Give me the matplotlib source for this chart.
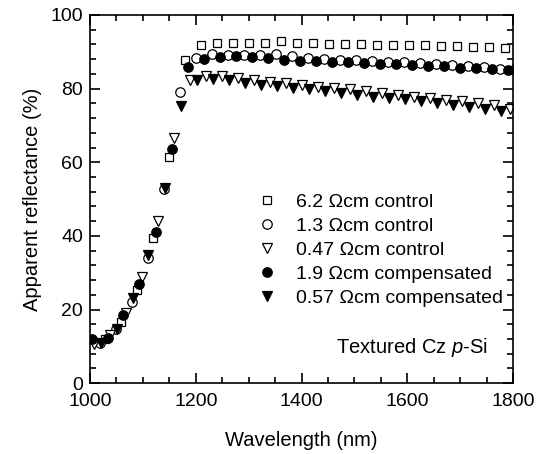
import matplotlib
matplotlib.use("Agg")
import matplotlib.pyplot as plt
from matplotlib.ticker import MultipleLocator

plt.rcParams["font.family"] = ["Liberation Sans", "DejaVu Sans"]
plt.rcParams["mathtext.fontset"] = "custom"
plt.rcParams["mathtext.it"] = "Liberation Sans:italic"
plt.rcParams["mathtext.rm"] = "Liberation Sans"

# 6.2 Ohm cm control (open squares)
wl_sq = [1028, 1059, 1089, 1119, 1149, 1180, 1210, 1240, 1270, 1301, 1331, 1361, 1391,
         1422, 1452, 1482, 1512, 1543, 1573, 1603, 1633, 1664, 1694, 1724, 1754, 1785]
r_sq = [12.0, 16.6, 25.3, 39.4, 61.4, 87.8, 91.8, 92.3, 92.4, 92.4, 92.3, 92.8, 92.3,
        92.3, 92.0, 92.0, 92.0, 91.9, 91.9, 91.8, 91.8, 91.6, 91.5, 91.4, 91.3, 91.1]

# 1.3 Ohm cm control (open circles)
wl_oc = [1019, 1049, 1079, 1110, 1140, 1170, 1200, 1230, 1260, 1291, 1321, 1351, 1381, 1412,
         1442, 1472, 1502, 1533, 1563, 1593, 1623, 1654, 1684, 1714, 1744, 1775, 1803]
r_oc = [11.0, 14.8, 22.0, 34.0, 52.7, 79.0, 88.2, 89.4, 89.1, 89.1, 89.1, 89.4, 88.8, 88.2,
        88.0, 87.8, 87.8, 87.5, 87.3, 87.3, 86.9, 86.7, 86.4, 86.1, 85.9, 85.2, 85.2]

# 0.47 Ohm cm control (open triangles)
wl_ot = [1008, 1038, 1068, 1098, 1129, 1159, 1189, 1219, 1250, 1280, 1310, 1340, 1371, 1401,
         1431, 1461, 1492, 1522, 1552, 1582, 1613, 1643, 1673, 1703, 1734, 1764, 1794]
r_ot = [10.6, 13.0, 19.0, 28.8, 44.0, 66.6, 82.3, 83.3, 83.4, 82.8, 82.3, 81.9, 81.4, 81.0,
        80.5, 80.2, 79.8, 79.4, 78.9, 78.4, 77.8, 77.4, 76.9, 76.6, 76.2, 75.6, 74.6]

# 1.9 Ohm cm compensated (filled circles)
wl_fc = [1004, 1034, 1063, 1093, 1125, 1155, 1185, 1215, 1245, 1276, 1306, 1336, 1366, 1397,
         1427, 1457, 1487, 1518, 1548, 1578, 1608, 1639, 1669, 1699, 1729, 1760, 1790]
r_fc = [12.0, 12.3, 18.5, 26.9, 41.0, 63.6, 86.0, 88.0, 88.7, 88.9, 88.5, 88.4, 87.9, 87.5,
        87.5, 87.3, 87.1, 86.9, 86.7, 86.7, 86.4, 86.1, 86.1, 85.7, 85.5, 85.3, 85.1]

# 0.57 Ohm cm compensated (filled triangles)
wl_ft = [1021, 1051, 1081, 1110, 1142, 1172, 1202, 1232, 1263, 1293, 1323, 1353, 1384,
         1414, 1444, 1474, 1505, 1535, 1565, 1595, 1626, 1656, 1686, 1716, 1747, 1777]
r_ft = [10.9, 14.7, 23.1, 34.8, 53.0, 75.3, 82.3, 82.6, 82.3, 81.4, 81.0, 80.7, 80.2,
        79.8, 79.4, 78.9, 78.4, 77.8, 77.5, 77.1, 76.6, 76.0, 75.6, 75.1, 74.5, 73.9]

labels = ["6.2 \u03a9cm control", "1.3 \u03a9cm control", "0.47 \u03a9cm control",
          "1.9 \u03a9cm compensated", "0.57 \u03a9cm compensated"]

fig = plt.figure(figsize=(5.39, 4.54), dpi=100)
ax = fig.add_axes([0.167, 0.156, 0.785, 0.811])

ax.plot(wl_sq, r_sq, ls="none", marker="s", ms=6.2, mfc="white", mec="black", mew=0.9, label=labels[0])
ax.plot(wl_oc, r_oc, ls="none", marker="o", ms=6.8, mfc="white", mec="black", mew=0.9, label=labels[1])
ax.plot(wl_ot, r_ot, ls="none", marker="v", ms=7.5, mfc="white", mec="black", mew=0.9, label=labels[2])
ax.plot(wl_fc, r_fc, ls="none", marker="o", ms=6.8, mfc="black", mec="black", mew=0.9, label=labels[3])
ax.plot(wl_ft, r_ft, ls="none", marker="v", ms=7.5, mfc="black", mec="black", mew=0.9, label=labels[4])

ax.set_xlim(1000, 1800)
ax.set_ylim(0, 100)
ax.xaxis.set_major_locator(MultipleLocator(200))
ax.xaxis.set_minor_locator(MultipleLocator(50))
ax.yaxis.set_major_locator(MultipleLocator(20))
ax.yaxis.set_minor_locator(MultipleLocator(4))
ax.tick_params(which="both", direction="in", top=True, right=True, labelsize=14, width=1.2)
ax.tick_params(which="major", length=7)
ax.tick_params(which="minor", length=4)
ax.tick_params(axis="x", which="major", pad=7)
ax.tick_params(axis="y", which="major", pad=5)
for s in ax.spines.values():
    s.set_linewidth(1.2)

ax.set_xlabel("Wavelength (nm)", fontsize=14.5, labelpad=15)
ax.set_ylabel("Apparent reflectance (%)", fontsize=14.5, labelpad=6)

ax.legend(loc="center left", bbox_to_anchor=(0.396, 0.361), frameon=False, fontsize=14,
          handlelength=1.0, handletextpad=1.0, labelspacing=0.33, borderpad=0,
          borderaxespad=0)

ax.text(1752, 9.8, r"Textured Cz $\it{p}$-Si", fontsize=14.5, ha="right", va="center")

fig.savefig("out.png", dpi=100)
